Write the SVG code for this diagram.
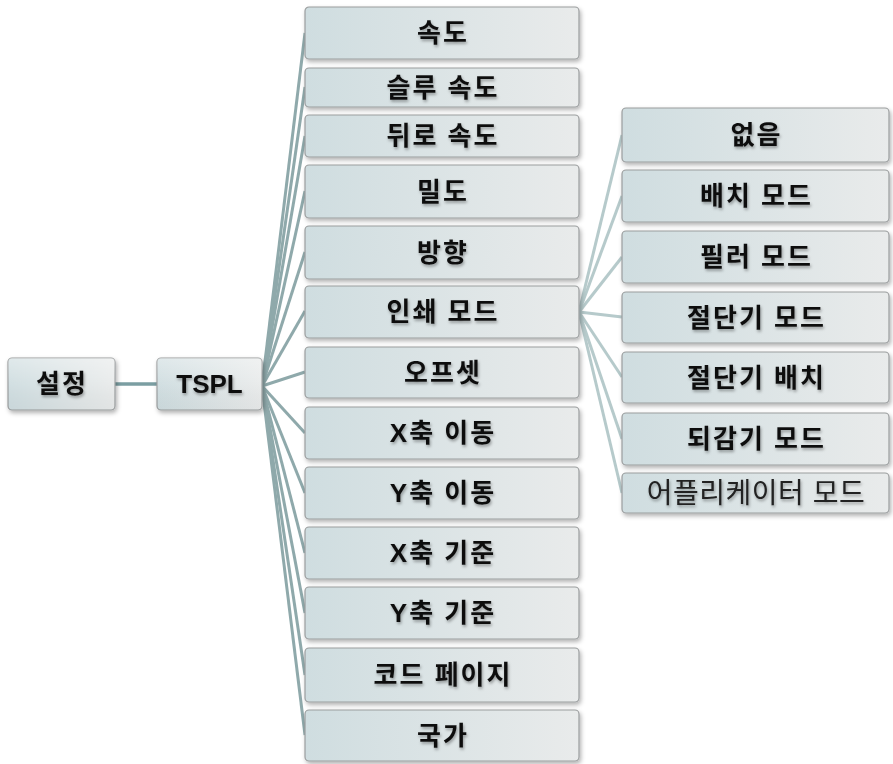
<svg xmlns="http://www.w3.org/2000/svg" width="893" height="764" viewBox="0 0 893 764">
<defs>
<linearGradient id="gBox" x1="0" y1="0" x2="1" y2="0">
<stop offset="0" stop-color="#cfdde0"/>
<stop offset="1" stop-color="#e9ebeb"/>
</linearGradient>
<linearGradient id="gGloss" x1="0" y1="0" x2="0" y2="1">
<stop offset="0" stop-color="#ffffff" stop-opacity="0.35"/>
<stop offset="0.5" stop-color="#ffffff" stop-opacity="0.05"/>
<stop offset="1" stop-color="#000000" stop-opacity="0.03"/>
</linearGradient>
<filter id="shadow" x="-10%" y="-20%" width="125%" height="150%">
<feDropShadow dx="1.5" dy="2.5" stdDeviation="2" flood-color="#000" flood-opacity="0.3"/>
</filter>
<filter id="tshadow" x="-10%" y="-30%" width="120%" height="170%">
<feDropShadow dx="1" dy="2" stdDeviation="1.5" flood-color="#000" flood-opacity="0.35"/>
</filter>
</defs>
<style>
.box{fill:url(#gBox);stroke:#9a9d9e;stroke-width:1.2;filter:url(#shadow)}
.gloss{fill:url(#gGloss);stroke:none}
.t{font-family:"Liberation Sans","Noto Sans CJK KR",sans-serif;font-weight:bold;font-size:26px;fill:#111;text-anchor:middle;dominant-baseline:central;filter:url(#tshadow);letter-spacing:2px;word-spacing:0}
.lat{letter-spacing:0}
.tr{font-weight:normal;font-size:28px;fill:#222;letter-spacing:0.5px}
.c1{stroke:#8fa9ab;stroke-width:3;fill:none}
.c2{stroke:#b6cacb;stroke-width:3;fill:none}
.c0{stroke:#7b9ea2;stroke-width:3.5;fill:none}
</style>
<g id="connectors">
<line class="c0" x1="115" y1="384" x2="157" y2="384"/>
<line class="c1" x1="262" y1="386" x2="305" y2="33"/>
<line class="c1" x1="262" y1="386" x2="305" y2="87"/>
<line class="c1" x1="262" y1="386" x2="305" y2="136"/>
<line class="c1" x1="262" y1="386" x2="305" y2="191"/>
<line class="c1" x1="262" y1="386" x2="305" y2="252"/>
<line class="c1" x1="262" y1="386" x2="305" y2="311"/>
<line class="c1" x1="262" y1="386" x2="305" y2="372"/>
<line class="c1" x1="262" y1="386" x2="305" y2="433"/>
<line class="c1" x1="262" y1="386" x2="305" y2="493"/>
<line class="c1" x1="262" y1="386" x2="305" y2="553"/>
<line class="c1" x1="262" y1="386" x2="305" y2="613"/>
<line class="c1" x1="262" y1="386" x2="305" y2="675"/>
<line class="c1" x1="262" y1="386" x2="305" y2="735"/>
<line class="c2" x1="579" y1="312" x2="622" y2="135"/>
<line class="c2" x1="579" y1="312" x2="622" y2="196"/>
<line class="c2" x1="579" y1="312" x2="622" y2="257"/>
<line class="c2" x1="579" y1="312" x2="622" y2="317"/>
<line class="c2" x1="579" y1="312" x2="622" y2="377"/>
<line class="c2" x1="579" y1="312" x2="622" y2="439"/>
<line class="c2" x1="579" y1="312" x2="622" y2="493"/>
</g>
<g id="n-settings"><rect class="box" x="8" y="358" width="107" height="52" rx="4"/><rect class="gloss" x="8" y="358" width="107" height="52" rx="4"/><text class="t" x="62" y="384">설정</text></g>
<g id="n-tspl"><rect class="box" x="157" y="358" width="105" height="52" rx="4"/><rect class="gloss" x="157" y="358" width="105" height="52" rx="4"/><text class="t lat" x="209.5" y="384">TSPL</text></g>
<g id="n-speed"><rect class="box" x="305" y="7" width="274" height="52" rx="4"/><text class="t" x="443" y="33">속도</text></g>
<g id="n-slew"><rect class="box" x="305" y="68" width="274" height="39" rx="4"/><text class="t" x="443" y="87.5">슬루 속도</text></g>
<g id="n-back"><rect class="box" x="305" y="115" width="274" height="42" rx="4"/><text class="t" x="443" y="136">뒤로 속도</text></g>
<g id="n-density"><rect class="box" x="305" y="165" width="274" height="53" rx="4"/><text class="t" x="443" y="191.5">밀도</text></g>
<g id="n-direction"><rect class="box" x="305" y="226" width="274" height="53" rx="4"/><text class="t" x="443" y="252.5">방향</text></g>
<g id="n-printmode"><rect class="box" x="305" y="286" width="274" height="52" rx="4"/><text class="t" x="443" y="312">인쇄 모드</text></g>
<g id="n-offset"><rect class="box" x="305" y="347" width="274" height="51" rx="4"/><text class="t" x="443" y="372.5">오프셋</text></g>
<g id="n-xshift"><rect class="box" x="305" y="407" width="274" height="52" rx="4"/><text class="t" x="443" y="433">X축 이동</text></g>
<g id="n-yshift"><rect class="box" x="305" y="467" width="274" height="52" rx="4"/><text class="t" x="443" y="493">Y축 이동</text></g>
<g id="n-xref"><rect class="box" x="305" y="527" width="274" height="52" rx="4"/><text class="t" x="443" y="553">X축 기준</text></g>
<g id="n-yref"><rect class="box" x="305" y="587" width="274" height="52" rx="4"/><text class="t" x="443" y="613">Y축 기준</text></g>
<g id="n-codepage"><rect class="box" x="305" y="648" width="274" height="54" rx="4"/><text class="t" x="443" y="675">코드 페이지</text></g>
<g id="n-country"><rect class="box" x="305" y="710" width="274" height="51" rx="4"/><text class="t" x="443" y="735.5">국가</text></g>
<g id="n-none"><rect class="box" x="622" y="108" width="267" height="54" rx="4"/><text class="t" x="756.5" y="135">없음</text></g>
<g id="n-batch"><rect class="box" x="622" y="170" width="267" height="52" rx="4"/><text class="t" x="756.5" y="196">배치 모드</text></g>
<g id="n-peeler"><rect class="box" x="622" y="231" width="267" height="52" rx="4"/><text class="t" x="756.5" y="257">필러 모드</text></g>
<g id="n-cutter"><rect class="box" x="622" y="292" width="267" height="51" rx="4"/><text class="t" x="756.5" y="317.5">절단기 모드</text></g>
<g id="n-cutterbatch"><rect class="box" x="622" y="352" width="267" height="51" rx="4"/><text class="t" x="756.5" y="377.5">절단기 배치</text></g>
<g id="n-rewind"><rect class="box" x="622" y="413" width="267" height="52" rx="4"/><text class="t" x="756.5" y="439">되감기 모드</text></g>
<g id="n-applicator"><rect class="box" x="622" y="473" width="267" height="40" rx="4"/><text class="t tr" x="756" y="493">어플리케이터 모드</text></g>
</svg>
